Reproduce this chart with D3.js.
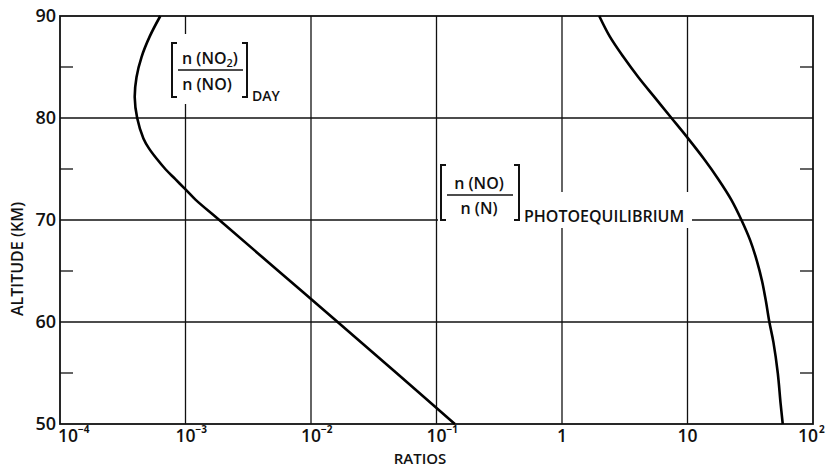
<!DOCTYPE html>
<html><head><meta charset="utf-8">
<script src="https://cdn.jsdelivr.net/npm/d3@7"></script>
<style>
html,body{margin:0;padding:0;background:#fff;}
svg{display:block;}
text{font-family:"Open Sans",sans-serif;font-weight:600;fill:#111;}
</style></head>
<body>
<svg id="c" width="829" height="468"></svg>
<script>
// ---- data ----
const dayAlt   = [50, 55, 60, 65, 70, 72, 73, 74, 75, 76, 77, 78, 80, 82, 84, 86, 88, 90];
const dayRatio = [0.140, 0.048, 0.0163, 0.0055, 0.00186, 0.00120, 0.00100, 0.00083, 0.00069, 0.00059, 0.000513, 0.000462, 0.000412, 0.000394, 0.000407, 0.000447, 0.000519, 0.00063];
const photoAlt   = [50, 52, 55, 58, 60, 62, 64, 66, 68, 70, 72, 74, 76, 78, 80, 82, 84, 86, 88, 90];
const photoRatio = [57.4, 55.2, 52.4, 48.4, 44.9, 42.2, 39.3, 35.7, 31.6, 26.9, 22.3, 17.6, 13.5, 10.1, 7.45, 5.50, 4.06, 3.08, 2.40, 1.98];
const xTickValues = [1e-4, 1e-3, 1e-2, 1e-1, 1, 10, 100];
const xTickBase   = ["10", "10", "10", "10", "1", "10", "10"];
const xTickExp    = ["-4", "-3", "-2", "-1", "", "", "2"];
const yTickValues = [50, 60, 70, 80, 90];
const yMinorTicks = [55, 65, 75, 85];
const xGrid = [1e-3, 1e-2, 1e-1, 1, 10];
const yGrid = [60, 70, 80];

// ---- layout ----
const L = 60, R = 813, T = 16, B = 424;
const svg = d3.select("#c");
const x = d3.scaleLog().domain([1e-4, 100]).range([L, R]);
const y = d3.scaleLinear().domain([50, 90]).range([B, T]);

// grid
svg.append("g").selectAll("line").data(xGrid).join("line")
  .attr("x1", d => x(d)).attr("x2", d => x(d)).attr("y1", T).attr("y2", B)
  .attr("stroke", "#111").attr("stroke-width", 1.3);
svg.append("g").selectAll("line").data(yGrid).join("line")
  .attr("x1", L).attr("x2", R).attr("y1", d => y(d)).attr("y2", d => y(d))
  .attr("stroke", "#111").attr("stroke-width", 1.3);

// minor ticks
svg.append("g").selectAll("line").data(yMinorTicks).join("line")
  .attr("x1", L).attr("x2", L + 13).attr("y1", d => y(d)).attr("y2", d => y(d))
  .attr("stroke", "#111").attr("stroke-width", 1.3);
svg.append("g").selectAll("line").data(yMinorTicks).join("line")
  .attr("x1", R - 13).attr("x2", R).attr("y1", d => y(d)).attr("y2", d => y(d))
  .attr("stroke", "#111").attr("stroke-width", 1.3);

// white backgrounds behind labels (grid gaps)
svg.append("rect").attr("x", 168).attr("y", 34).attr("width", 118).attr("height", 70).attr("fill", "#fff");
svg.append("rect").attr("x", 438).attr("y", 192).attr("width", 254).attr("height", 36).attr("fill", "#fff");

// frame
svg.append("rect").attr("x", L).attr("y", T).attr("width", R - L).attr("height", B - T)
  .attr("fill", "none").attr("stroke", "#111").attr("stroke-width", 1.8);

// curves
const line = d3.line().x(d => x(d[0])).y(d => y(d[1])).curve(d3.curveCatmullRom.alpha(0.5));
svg.append("path").datum(dayRatio.map((v, i) => [v, dayAlt[i]]))
  .attr("d", line).attr("fill", "none").attr("stroke", "#000").attr("stroke-width", 2.6);
svg.append("path").datum(photoRatio.map((v, i) => [v, photoAlt[i]]))
  .attr("d", line).attr("fill", "none").attr("stroke", "#000").attr("stroke-width", 2.6);

// y tick labels
svg.append("g").selectAll("text").data(yTickValues).join("text")
  .attr("x", L - 4).attr("y", d => y(d)).attr("dy", "0.36em")
  .attr("text-anchor", "end").style("font-size", "18px").text(d => d);

// x tick labels
const xl = svg.append("g");
xTickValues.forEach((v, i) => {
  let cx = x(v);
  if (i === 0) cx += 8;
  if (i === xTickValues.length - 1) cx -= 5;
  const t = xl.append("text").attr("x", cx).attr("y", 442)
    .attr("text-anchor", "middle").style("font-size", "17.5px").text(xTickBase[i]);
  const w = t.node().getComputedTextLength();
  if (xTickExp[i]) {
    xl.append("text").attr("x", cx + w / 2 + (xTickExp[i] === "2" ? 1 : 0)).attr("y", 433)
      .style("font-size", "10px").style("font-weight", "700").text(xTickExp[i].replace("-", "\u2212"));
  }
});

// axis titles
svg.append("text").attr("x", 420).attr("y", 463.5).attr("text-anchor", "middle")
  .style("font-size", "15px").text("RATIOS");
svg.append("text").attr("transform", "translate(23,259) rotate(-90)").attr("text-anchor", "middle")
  .style("font-size", "16px").text("ALTITUDE  (KM)");

// label brackets
function bracket(x0, y0, y1, dir) {
  svg.append("path").attr("d", `M${x0 + 5 * dir},${y0}H${x0}V${y1}H${x0 + 5 * dir}`)
    .attr("fill", "none").attr("stroke", "#111").attr("stroke-width", 2);
}
// label 1
bracket(172, 43, 97, 1);
bracket(247, 43, 97, -1);
const n1 = svg.append("text").attr("x", 210).attr("y", 64).attr("text-anchor", "middle").style("font-size", "16px");
n1.append("tspan").text("n  (NO");
n1.append("tspan").attr("dy", 3).style("font-size", "11px").text("2");
n1.append("tspan").attr("dy", -3).text(")");
svg.append("line").attr("x1", 178).attr("x2", 243).attr("y1", 70).attr("y2", 70).attr("stroke", "#111").attr("stroke-width", 1.6);
svg.append("text").attr("x", 207).attr("y", 90).attr("text-anchor", "middle").style("font-size", "16px").text("n (NO)");
svg.append("text").attr("x", 252).attr("y", 101).style("font-size", "14px").text("DAY");

// label 2
bracket(441, 165, 220, 1);
bracket(519, 165, 220, -1);
svg.append("text").attr("x", 479).attr("y", 189).attr("text-anchor", "middle").style("font-size", "16px").text("n  (NO)");
svg.append("line").attr("x1", 447).attr("x2", 513).attr("y1", 195).attr("y2", 195).attr("stroke", "#111").attr("stroke-width", 1.6);
svg.append("text").attr("x", 479).attr("y", 214).attr("text-anchor", "middle").style("font-size", "16px").text("n   (N)");
svg.append("text").attr("x", 524).attr("y", 222).style("font-size", "16px").text("PHOTOEQUILIBRIUM");
</script>
</body></html>
